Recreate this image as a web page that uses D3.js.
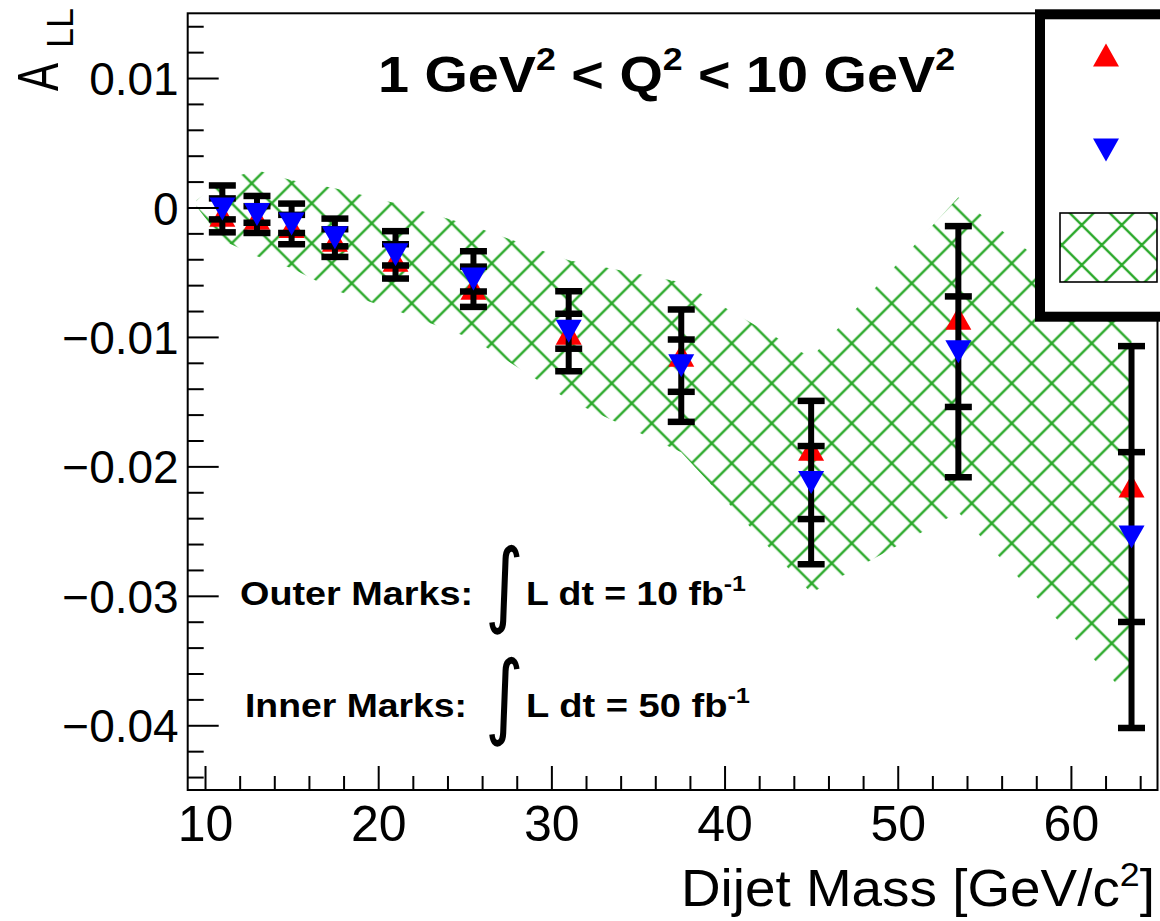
<!DOCTYPE html>
<html><head><meta charset="utf-8">
<script src="https://cdn.jsdelivr.net/npm/d3@7"></script>
<style>
html,body{margin:0;padding:0;background:#fff;}
svg{display:block;}
text{font-family:"Liberation Sans", Arial, Helvetica, sans-serif;}
</style></head>
<body><svg id="chart" width="1160" height="921"></svg>
<script>
// Dijet mass bin centres [GeV/c^2]
const massBins = [11, 13, 15, 17.5, 21, 25.5, 31, 37.5, 45, 53.5, 63.5];
// A_LL for the red (up-triangle) series
const allRed = [-0.0006, -0.00083, -0.00147, -0.00253, -0.00407, -0.00624, -0.00971, -0.01141, -0.01867, -0.00855, -0.02151];
// A_LL for the blue (down-triangle) series; error bars are attached to it
const allBlue = [-0.00011, -0.00054, -0.00127, -0.00234, -0.00366, -0.00553, -0.00956, -0.01222, -0.02125, -0.01114, -0.02546];
// statistical uncertainty for 10 fb^-1 (outer caps)
const errOuter = [0.00181, 0.00143, 0.00157, 0.00148, 0.00183, 0.00215, 0.00309, 0.00434, 0.00631, 0.0097, 0.01475];
// statistical uncertainty for 50 fb^-1 (inner caps)
const errInner = [0.00081, 0.00064, 0.0007, 0.00066, 0.00082, 0.00096, 0.00135, 0.00202, 0.00282, 0.00427, 0.00656];
// hatched uncertainty band
const bandMass = [9.5, 11, 13, 15, 17.5, 21, 25.5, 31, 37.5, 45, 53.5, 63.5];
const bandHigh = [0.00056, 0.0021, 0.00288, 0.0021, 0.00149, 0.00033, -0.00145, -0.00407, -0.00577, -0.0116, 0.00079, -0.00948];
const bandLow = [0.0001, -0.00253, -0.00376, -0.00469, -0.00639, -0.00793, -0.01017, -0.01488, -0.0189, -0.02979, -0.02354, -0.03805];
// axis ticks
const xMajor = [10, 20, 30, 40, 50, 60];
const xTickLabels = ["10", "20", "30", "40", "50", "60"];
const yMajor = [-0.04, -0.03, -0.02, -0.01, 0, 0.01];
const yTickLabels = ["\u22120.04", "\u22120.03", "\u22120.02", "\u22120.01", "0", "0.01"];

const svg = d3.select("#chart");
const W = 1160, H = 921;
const L = 187.7, R = 1157.5, T = 13.3, B = 790;

const x = d3.scaleLinear().domain([9, 65]).range([L, R]);
const y = d3.scaleLinear().domain([-0.045, 0.015]).range([B, T]);

const hatchColor = "#14a014";
const defs = svg.append("defs");
function hatch(id, tx, ty) {
  const p = defs.append("pattern").attr("id", id)
    .attr("patternUnits", "userSpaceOnUse").attr("width", 40).attr("height", 40)
    .attr("patternTransform", `translate(${tx},${ty})`);
  p.append("path")
    .attr("d", "M0,0L40,40M40,0L0,40M-5,35L5,45M35,-5L45,5M-5,5L5,-5M35,45L45,35")
    .attr("stroke", hatchColor).attr("stroke-width", 2.4).attr("stroke-opacity", 0.9)
    .attr("fill", "none");
}
hatch("hatchMain", 11.7, 23.3);
hatch("hatchLegend", 1.7, 25);
defs.append("clipPath").attr("id", "plotClip")
  .append("rect").attr("x", L).attr("y", T).attr("width", R - L).attr("height", B - T);

svg.append("rect").attr("width", W).attr("height", H).attr("fill", "#fff");

// uncertainty band
const bandData = bandMass.map((m, i) => ({ m, hi: bandHigh[i], lo: bandLow[i] }));
svg.append("path").datum(bandData)
  .attr("clip-path", "url(#plotClip)")
  .attr("fill", "url(#hatchMain)")
  .attr("d", d3.area().x(d => x(d.m)).y0(d => y(d.lo)).y1(d => y(d.hi)));

const pts = massBins.map((m, i) => ({ m, red: allRed[i], blue: allBlue[i], eo: errOuter[i], ei: errInner[i] }));
const triUp = "M0,-11.5L13,11.5L-13,11.5Z";
const triDown = "M0,11.5L13,-11.5L-13,-11.5Z";

// red markers
svg.append("g").selectAll("path").data(pts).join("path")
  .attr("d", triUp).attr("fill", "#ff0000")
  .attr("transform", d => `translate(${x(d.m)},${y(d.red)})`);

// error bars with outer (10 fb^-1) and inner (50 fb^-1) caps
const eb = svg.append("g").attr("stroke", "#000");
eb.selectAll("line.v").data(pts).join("line").attr("class", "v")
  .attr("x1", d => x(d.m)).attr("x2", d => x(d.m))
  .attr("y1", d => y(d.blue + d.eo)).attr("y2", d => y(d.blue - d.eo))
  .attr("stroke-width", 6);
const caps = pts.flatMap(d => [d.blue + d.eo, d.blue - d.eo, d.blue + d.ei, d.blue - d.ei].map(v => ({ m: d.m, v })));
eb.selectAll("line.c").data(caps).join("line").attr("class", "c")
  .attr("x1", d => x(d.m) - 13.5).attr("x2", d => x(d.m) + 13.5)
  .attr("y1", d => y(d.v)).attr("y2", d => y(d.v))
  .attr("stroke-width", 6.5);

// blue markers
svg.append("g").selectAll("path").data(pts).join("path")
  .attr("d", triDown).attr("fill", "#0000ff")
  .attr("transform", d => `translate(${x(d.m)},${y(d.blue)})`);

// axes: ticks point into the frame, labels outside
const axisG = svg.append("g");
const yMinor = d3.range(-44, 15, 2).map(v => v / 1000).filter(v => !yMajor.some(m => Math.abs(m - v) < 1e-9));
axisG.append("g").attr("transform", `translate(${L},0)`)
  .call(d3.axisRight(y).tickValues(yMajor).tickSize(31).tickFormat(""));
axisG.append("g").attr("transform", `translate(${L},0)`)
  .call(d3.axisRight(y).tickValues(yMinor).tickSize(16).tickFormat(""));
const yLab = axisG.append("g").attr("transform", `translate(${L - 9},0)`)
  .call(d3.axisLeft(y).tickValues(yMajor).tickSize(0).tickPadding(0)
    .tickFormat((d, i) => yTickLabels[i]));
const xMinor = d3.range(10, 65, 2).filter(v => !xMajor.includes(v));
axisG.append("g").attr("transform", `translate(0,${B})`)
  .call(d3.axisTop(x).tickValues(xMajor).tickSize(24).tickFormat(""));
axisG.append("g").attr("transform", `translate(0,${B})`)
  .call(d3.axisTop(x).tickValues(xMinor).tickSize(14).tickFormat(""));
const xLab = axisG.append("g").attr("transform", `translate(0,${B + 15})`)
  .call(d3.axisBottom(x).tickValues(xMajor).tickSize(0).tickPadding(0)
    .tickFormat((d, i) => xTickLabels[i]));
axisG.selectAll(".domain").remove();
axisG.selectAll(".tick line").attr("stroke", "#000").attr("stroke-width", 2);
axisG.selectAll(".tick text").attr("fill", "#000").style("font-family", "'Liberation Sans', Arial, sans-serif");
yLab.selectAll(".tick text").attr("font-size", 46).attr("dy", "0.36em");
xLab.selectAll(".tick text").attr("font-size", 50).attr("dy", "0.71em");

// frame
svg.append("rect").attr("x", L).attr("y", T).attr("width", R - L).attr("height", B - T)
  .attr("fill", "none").attr("stroke", "#000").attr("stroke-width", 2);

// axis titles
svg.append("text").attr("x", 1155).attr("y", 906).attr("text-anchor", "end")
  .attr("font-size", 52).attr("textLength", 474).attr("lengthAdjust", "spacingAndGlyphs")
  .call(t => {
    t.append("tspan").text("Dijet Mass [GeV/c");
    t.append("tspan").attr("font-size", 34).attr("dy", -20).text("2");
    t.append("tspan").attr("dy", 20).text("]");
  });
const yt = svg.append("g").attr("transform", "translate(58,91) rotate(-90)");
yt.append("text").attr("x", 0).attr("y", 0).attr("font-size", 58)
  .attr("textLength", 28).attr("lengthAdjust", "spacingAndGlyphs").text("A");
yt.append("text").attr("x", 43).attr("y", 15).attr("font-size", 36).text("LL");

// title
svg.append("text").attr("x", 378).attr("y", 92).attr("font-size", 50).attr("font-weight", "bold")
  .attr("textLength", 577).attr("lengthAdjust", "spacingAndGlyphs")
  .call(t => {
    t.append("tspan").text("1 GeV");
    t.append("tspan").attr("font-size", 32).attr("dy", -22).text("2");
    t.append("tspan").attr("dy", 22).text(" < Q");
    t.append("tspan").attr("font-size", 32).attr("dy", -22).text("2");
    t.append("tspan").attr("dy", 22).text(" < 10 GeV");
    t.append("tspan").attr("font-size", 32).attr("dy", -22).text("2");
  });

// luminosity notes
function note(yBase, label, labelX, labelLen, lumi, lumiLen) {
  svg.append("text").attr("x", labelX).attr("y", yBase).attr("font-size", 33).attr("font-weight", "bold")
    .attr("textLength", labelLen).attr("lengthAdjust", "spacingAndGlyphs").text(label);
  svg.append("text").attr("transform", `translate(485,${yBase + 10}) scale(0.8,1)`)
    .attr("font-size", 93).style("font-family", "'DejaVu Sans', sans-serif").text("\u222B");
  svg.append("text").attr("x", 526).attr("y", yBase).attr("font-size", 33).attr("font-weight", "bold")
    .attr("textLength", lumiLen).attr("lengthAdjust", "spacingAndGlyphs")
    .call(t => {
      t.append("tspan").text("L dt = " + lumi + " fb");
      t.append("tspan").attr("font-size", 22).attr("dy", -14).text("-1");
    });
}
note(605, "Outer Marks:", 240, 233, "10", 220);
note(717, "Inner Marks:", 245, 222, "50", 224);

// legend
const lg = svg.append("g");
lg.append("rect").attr("x", 1040).attr("y", 14.3).attr("width", 140).attr("height", 302.4)
  .attr("fill", "#fff").attr("stroke", "#000").attr("stroke-width", 10);
lg.append("path").attr("d", triUp).attr("fill", "#ff0000").attr("transform", "translate(1106,55)");
lg.append("path").attr("d", triDown).attr("fill", "#0000ff").attr("transform", "translate(1106,150)");
lg.append("rect").attr("x", 1060).attr("y", 213).attr("width", 97).attr("height", 69)
  .attr("fill", "url(#hatchLegend)").attr("stroke", "#000").attr("stroke-width", 1.6);
</script>
</body></html>
